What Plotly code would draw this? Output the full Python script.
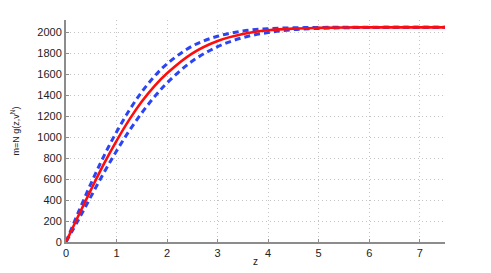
import plotly.graph_objects as go

z = [0, 0.25, 0.5, 0.75, 1, 1.25, 1.5, 1.75, 2, 2.5, 3, 3.5, 4, 4.5, 5, 5.5, 6, 6.5, 7, 7.5]
m_mid = [0, 255, 505, 745, 965, 1165, 1340, 1488, 1610, 1800, 1918, 1985, 2020, 2036, 2043, 2047, 2048, 2048, 2048, 2048]
m_upper = [0, 290, 565, 820, 1050, 1255, 1432, 1580, 1700, 1870, 1963, 2013, 2035, 2043, 2047, 2048, 2048, 2048, 2048, 2048]
m_lower = [0, 215, 440, 660, 868, 1060, 1232, 1385, 1518, 1726, 1864, 1950, 1999, 2026, 2038, 2044, 2047, 2048, 2048, 2048]

x_ticks = [0, 1, 2, 3, 4, 5, 6, 7]
y_ticks = [0, 200, 400, 600, 800, 1000, 1200, 1400, 1600, 1800, 2000]

fig = go.Figure()
for ys in (m_upper, m_lower):
    fig.add_trace(go.Scatter(x=z, y=ys, mode="lines",
                             line=dict(color="#2b45f5", width=3, dash="6px,4px", shape="spline"),
                             showlegend=False, hoverinfo="skip"))
fig.add_trace(go.Scatter(x=z, y=m_mid, mode="lines", line=dict(color="#ff0d0d", width=2.6, shape="spline"),
                         showlegend=False))

font_family = "Liberation Sans, Arial, Helvetica"
axis_common = dict(showgrid=True, gridcolor="#c4c4c4", griddash="1px,3px", gridwidth=1,
                   showline=True, linecolor="#8c8c8c", linewidth=2, zeroline=False,
                   ticks="inside", ticklen=3, tickcolor="#8c8c8c", automargin=False,
                   tickfont=dict(family=font_family, size=11, color="#222"))
fig.update_xaxes(range=[0, 7.5], tickvals=x_ticks,
                 title=dict(text="z", font=dict(size=10, family=font_family, color="#222"), standoff=0),
                 **axis_common)
fig.update_yaxes(range=[0, 2118], tickvals=y_ticks,
                 title=dict(text="m=N g(z,v<sup>N</sup>)", font=dict(size=9, family=font_family, color="#222"), standoff=16),
                 **axis_common)
fig.update_layout(width=491, height=273, margin=dict(l=58, r=54, t=12, b=39),
                  plot_bgcolor="white", paper_bgcolor="white", showlegend=False)
fig.write_html("out.html")
